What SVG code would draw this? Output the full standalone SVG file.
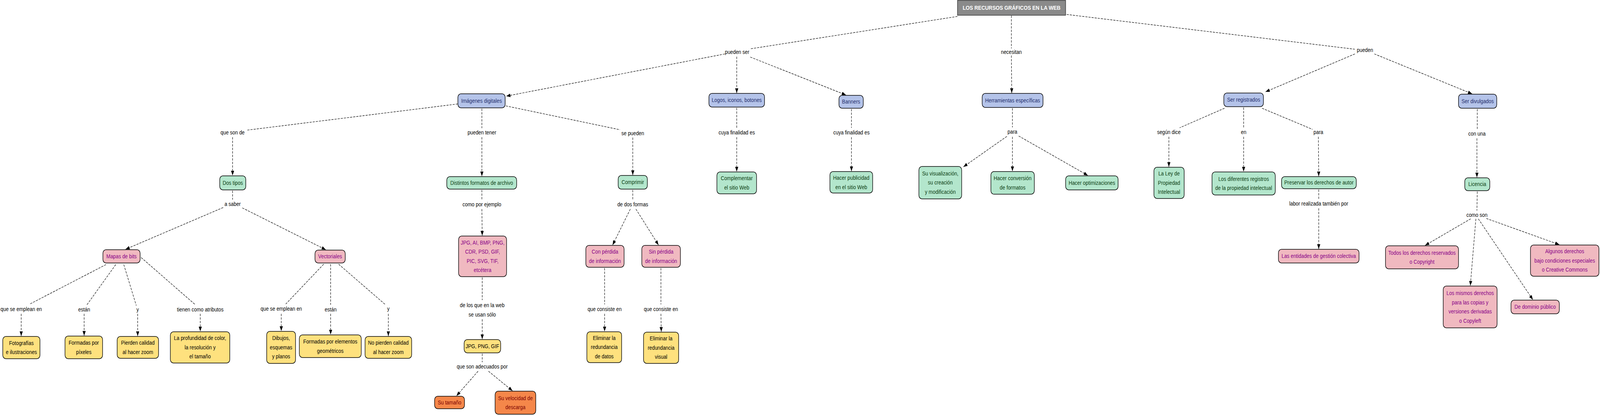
<svg xmlns="http://www.w3.org/2000/svg" width="4602" height="1062" viewBox="0 0 4602 1062" preserveAspectRatio="none" style="width:100vw;height:100vh;display:block">
<style>
text{font-family:"Liberation Sans",Arial,sans-serif;font-size:14px;text-anchor:middle}
.lbl{fill:#000}
.nd rect{stroke:#000;stroke-width:1.5}
.blue rect{fill:#b4c3e9}.blue text{fill:#1f2d6b}
.green rect{fill:#b3e6cc}.green text{fill:#0b3d12}
.pink rect{fill:#f0b9c0}.pink text{fill:#880088}
.yel rect{fill:#fee17e}.yel text{fill:#000}
.org rect{fill:#f5874a}.org text{fill:#7a0000}
#conn line{stroke:#000;stroke-width:1.2;stroke-dasharray:6 3;fill:none}
#conn line.a{marker-end:url(#arr)}
</style>
<defs>
<marker id="arr" viewBox="0 0 12 9" refX="12" refY="4.5" markerWidth="12" markerHeight="9" markerUnits="userSpaceOnUse" orient="auto"><path d="M0,0 L12,4.5 L0,9 z" fill="#000"/></marker>
</defs>
<rect width="4602" height="1062" fill="#fff"/>
<g id="conn">
<line x1="2754" y1="42" x2="2158" y2="125"/>
<line x1="2909" y1="40" x2="2909" y2="124"/>
<line x1="3068" y1="37" x2="3897" y2="126"/>
<line class="a" x1="2085" y1="138" x2="1456" y2="246"/>
<line class="a" x1="2119" y1="145" x2="2119" y2="238"/>
<line class="a" x1="2158" y1="146" x2="2433" y2="243"/>
<line class="a" x1="2909" y1="142" x2="2910" y2="238"/>
<line class="a" x1="3897" y1="138" x2="3640" y2="235"/>
<line class="a" x1="3953" y1="138" x2="4234" y2="240"/>
<line x1="1317" y1="266" x2="711" y2="333"/>
<line x1="1386" y1="278" x2="1386" y2="328"/>
<line x1="1455" y1="271" x2="1783" y2="332"/>
<line class="a" x1="669" y1="351" x2="669" y2="449"/>
<line class="a" x1="1386" y1="351" x2="1386" y2="451"/>
<line class="a" x1="1820" y1="352" x2="1820" y2="448"/>
<line x1="2119" y1="276" x2="2119" y2="328"/>
<line class="a" x1="2119" y1="351" x2="2119" y2="439"/>
<line x1="2449" y1="279" x2="2449" y2="327"/>
<line class="a" x1="2449" y1="351" x2="2449" y2="438"/>
<line x1="2912" y1="277" x2="2912" y2="326"/>
<line class="a" x1="2896" y1="349" x2="2771" y2="427"/>
<line class="a" x1="2912" y1="350" x2="2912" y2="438"/>
<line class="a" x1="2930" y1="348" x2="3129" y2="449"/>
<line x1="3522" y1="277" x2="3393" y2="327"/>
<line x1="3577" y1="275" x2="3577" y2="327"/>
<line x1="3630" y1="277" x2="3775" y2="331"/>
<line class="a" x1="3362" y1="350" x2="3362" y2="427"/>
<line class="a" x1="3577" y1="350" x2="3577" y2="439"/>
<line class="a" x1="3792" y1="350" x2="3793" y2="451"/>
<line x1="3793" y1="485" x2="3793" y2="510"/>
<line class="a" x1="3793" y1="533" x2="3793" y2="637"/>
<line x1="4249" y1="279" x2="4249" y2="331"/>
<line class="a" x1="4248" y1="354" x2="4248" y2="454"/>
<line x1="4249" y1="490" x2="4248" y2="539"/>
<line class="a" x1="4230" y1="560" x2="4099" y2="628"/>
<line class="a" x1="4245" y1="560" x2="4229" y2="731"/>
<line class="a" x1="4252" y1="560" x2="4409" y2="767"/>
<line class="a" x1="4275" y1="559" x2="4485" y2="626"/>
<line x1="669" y1="488" x2="669" y2="511"/>
<line class="a" x1="642" y1="531" x2="361" y2="638"/>
<line class="a" x1="697" y1="532" x2="937" y2="639"/>
<line x1="305" y1="677" x2="86" y2="778"/>
<line x1="333" y1="677" x2="250" y2="780"/>
<line x1="356" y1="677" x2="392" y2="782"/>
<line x1="406" y1="659" x2="562" y2="780"/>
<line class="a" x1="61" y1="803" x2="61" y2="860"/>
<line class="a" x1="242" y1="803" x2="242" y2="859"/>
<line class="a" x1="396" y1="803" x2="396" y2="860"/>
<line class="a" x1="576" y1="803" x2="576" y2="848"/>
<line x1="931" y1="676" x2="822" y2="778"/>
<line x1="951" y1="676" x2="951" y2="780"/>
<line x1="974" y1="676" x2="1109" y2="780"/>
<line class="a" x1="809" y1="803" x2="809" y2="847"/>
<line class="a" x1="951" y1="803" x2="951" y2="856"/>
<line class="a" x1="1117" y1="803" x2="1117" y2="860"/>
<line x1="1386" y1="486" x2="1386" y2="512"/>
<line class="a" x1="1386" y1="535" x2="1387" y2="603"/>
<line x1="1387" y1="710" x2="1387" y2="768"/>
<line class="a" x1="1387" y1="817" x2="1387" y2="868"/>
<line x1="1387" y1="905" x2="1387" y2="927"/>
<line class="a" x1="1375" y1="950" x2="1313" y2="1013"/>
<line class="a" x1="1405" y1="950" x2="1474" y2="1000"/>
<line x1="1820" y1="486" x2="1820" y2="512"/>
<line class="a" x1="1813" y1="535" x2="1762" y2="627"/>
<line class="a" x1="1829" y1="535" x2="1894" y2="627"/>
<line x1="1739" y1="686" x2="1739" y2="779"/>
<line class="a" x1="1739" y1="803" x2="1739" y2="848"/>
<line x1="1901" y1="686" x2="1901" y2="779"/>
<line class="a" x1="1901" y1="803" x2="1902" y2="849"/>
</g>
<g id="labels" class="lbl">
<text x="2120" y="138">pueden ser</text>
<text x="2909" y="138">necesitan</text>
<text x="3926" y="133">pueden</text>
<text x="669" y="344">que son de</text>
<text x="1386" y="344">pueden tener</text>
<text x="1820" y="346">se pueden</text>
<text x="2119" y="344">cuya finalidad es</text>
<text x="2449" y="344">cuya finalidad es</text>
<text x="2912" y="342">para</text>
<text x="3362" y="343">según dice</text>
<text x="3577" y="343">en</text>
<text x="3792" y="343">para</text>
<text x="4248" y="347">con una</text>
<text x="669" y="527">a saber</text>
<text x="1386" y="528">como por ejemplo</text>
<text x="1820" y="528">de dos formas</text>
<text x="3793" y="526">labor realizada también por</text>
<text x="4248" y="555">como son</text>
<text x="61" y="796">que se emplean en</text>
<text x="242" y="797">están</text>
<text x="396" y="797">y</text>
<text x="576" y="797">tienen como atributos</text>
<text x="809" y="795">que se emplean en</text>
<text x="951" y="797">están</text>
<text x="1117" y="795">y</text>
<text x="1387"><tspan x="1387" y="786">de los que en la web</tspan><tspan x="1387" y="810">se usan sólo</tspan></text>
<text x="1739" y="796">que consiste en</text>
<text x="1901" y="796">que consiste en</text>
<text x="1387" y="943">que son adecuados por</text>
</g>
<g id="n-title"><rect x="2754" y="1" width="311" height="38" fill="#8a8a8a" stroke="#333" stroke-width="1.5"/><text x="2909.5" y="25" style="fill:#fff;font-weight:bold;font-size:14.5px">LOS RECURSOS GRÁFICOS EN LA WEB</text></g>
<g id="n-imagenes" class="nd blue"><rect x="1317" y="240" width="136" height="36" rx="9"/><text x="1385" y="263">Imágenes digitales</text></g>
<g id="n-logos" class="nd blue"><rect x="2039" y="239" width="160" height="35" rx="9"/><text x="2119" y="261.5">Logos, iconos, botones</text></g>
<g id="n-banners" class="nd blue"><rect x="2413" y="244" width="70" height="33" rx="9"/><text x="2448" y="265.5">Banners</text></g>
<g id="n-herramientas" class="nd blue"><rect x="2825" y="239" width="175" height="36" rx="9"/><text x="2912.5" y="262">Herramientas específicas</text></g>
<g id="n-registrados" class="nd blue"><rect x="3520" y="238" width="114" height="35" rx="9"/><text x="3577" y="260.5">Ser registrados</text></g>
<g id="n-divulgados" class="nd blue"><rect x="4195" y="241" width="110" height="36" rx="9"/><text x="4250" y="264">Ser divulgados</text></g>
<g id="n-dostipos" class="nd green"><rect x="632" y="450" width="75" height="36" rx="9"/><text x="669.5" y="473">Dos tipos</text></g>
<g id="n-distintos" class="nd green"><rect x="1285" y="452" width="201" height="32" rx="9"/><text x="1385.5" y="473">Distintos formatos de archivo</text></g>
<g id="n-comprimir" class="nd green"><rect x="1778" y="449" width="84" height="35" rx="9"/><text x="1820" y="471.5">Comprimir</text></g>
<g id="n-complementar" class="nd green"><rect x="2062" y="440" width="114" height="56" rx="9"/><text><tspan x="2119" y="461">Complementar</tspan><tspan x="2119" y="485">el sitio Web</tspan></text></g>
<g id="n-publicidad" class="nd green"><rect x="2387" y="439" width="123" height="55" rx="9"/><text><tspan x="2448.5" y="460">Hacer publicidad</tspan><tspan x="2448.5" y="484">en el sitio Web</tspan></text></g>
<g id="n-visualizacion" class="nd green"><rect x="2643" y="426" width="123" height="83" rx="9"/><text><tspan x="2704.5" y="449">Su visualización,</tspan><tspan x="2704.5" y="472.5">su creación</tspan><tspan x="2704.5" y="496">y modificación</tspan></text></g>
<g id="n-conversion" class="nd green"><rect x="2850" y="439" width="125" height="58" rx="9"/><text><tspan x="2912.5" y="461">Hacer conversión</tspan><tspan x="2912.5" y="485">de formatos</tspan></text></g>
<g id="n-optimizaciones" class="nd green"><rect x="3065" y="450" width="151" height="36" rx="9"/><text x="3140.5" y="473">Hacer optimizaciones</text></g>
<g id="n-ley" class="nd green"><rect x="3319" y="428" width="87" height="80" rx="9"/><text><tspan x="3362.5" y="449.5">La Ley de</tspan><tspan x="3362.5" y="473">Propiedad</tspan><tspan x="3362.5" y="496.5">Intelectual</tspan></text></g>
<g id="n-registros" class="nd green"><rect x="3486" y="440" width="182" height="59" rx="9"/><text><tspan x="3577" y="463">Los diferentes registros</tspan><tspan x="3577" y="486.5">de la propiedad intelectual</tspan></text></g>
<g id="n-preservar" class="nd green"><rect x="3686" y="452" width="215" height="31" rx="9"/><text x="3793.5" y="472.5">Preservar los derechos de autor</text></g>
<g id="n-licencia" class="nd green"><rect x="4213" y="455" width="72" height="33" rx="9"/><text x="4249" y="476.5">Licencia</text></g>
<g id="n-mapas" class="nd pink"><rect x="296" y="639" width="107" height="34" rx="9"/><text x="349.5" y="661">Mapas de bits</text></g>
<g id="n-vectoriales" class="nd pink"><rect x="906" y="640" width="87" height="33" rx="9"/><text x="949.5" y="661.5">Vectoriales</text></g>
<g id="n-formatos" class="nd pink"><rect x="1319" y="604" width="138" height="104" rx="9"/><text><tspan x="1388" y="626">JPG, AI, BMP, PNG,</tspan><tspan x="1388" y="649.5">CDR, PSD, GIF,</tspan><tspan x="1388" y="673">PIC, SVG, TIF,</tspan><tspan x="1388" y="696.5">etcétera</tspan></text></g>
<g id="n-conperdida" class="nd pink"><rect x="1685" y="628" width="110" height="56" rx="9"/><text><tspan x="1740" y="649.5">Con pérdida</tspan><tspan x="1740" y="673">de información</tspan></text></g>
<g id="n-sinperdida" class="nd pink"><rect x="1846" y="628" width="111" height="56" rx="9"/><text><tspan x="1901.5" y="649.5">Sin pérdida</tspan><tspan x="1901.5" y="673">de información</tspan></text></g>
<g id="n-entidades" class="nd pink"><rect x="3677" y="638" width="232" height="35" rx="9"/><text x="3793" y="660.5">Las entidades de gestión colectiva</text></g>
<g id="n-copyright" class="nd pink"><rect x="3985" y="629" width="210" height="59" rx="9"/><text><tspan x="4090" y="652">Todos los derechos reservados</tspan><tspan x="4090" y="675.5">o Copyright</tspan></text></g>
<g id="n-creative" class="nd pink"><rect x="4402" y="627" width="197" height="80" rx="9"/><text><tspan x="4500.5" y="648.5">Algunos derechos</tspan><tspan x="4500.5" y="672">bajo condiciones especiales</tspan><tspan x="4500.5" y="695.5">o Creative Commons</tspan></text></g>
<g id="n-copyleft" class="nd pink"><rect x="4151" y="732" width="155" height="107" rx="9"/><text><tspan x="4228.5" y="755.5">Los mismos derechos</tspan><tspan x="4228.5" y="779">para las copias y</tspan><tspan x="4228.5" y="802.5">versiones derivadas</tspan><tspan x="4228.5" y="826">o Copyleft</tspan></text></g>
<g id="n-dominio" class="nd pink"><rect x="4346" y="768" width="139" height="35" rx="9"/><text x="4415.5" y="790.5">De dominio público</text></g>
<g id="n-fotografias" class="nd yel"><rect x="8" y="861" width="107" height="57" rx="9"/><text><tspan x="61.5" y="883">Fotografías</tspan><tspan x="61.5" y="906.5">e ilustraciones</tspan></text></g>
<g id="n-pixeles" class="nd yel"><rect x="187" y="860" width="108" height="58" rx="9"/><text><tspan x="241" y="882.5">Formadas por</tspan><tspan x="241" y="906">píxeles</tspan></text></g>
<g id="n-pierden" class="nd yel"><rect x="337" y="861" width="119" height="56" rx="9"/><text><tspan x="396.5" y="882.5">Pierden calidad</tspan><tspan x="396.5" y="906">al hacer zoom</tspan></text></g>
<g id="n-profundidad" class="nd yel"><rect x="490" y="849" width="171" height="80" rx="9"/><text><tspan x="575.5" y="870.5">La profundidad de color,</tspan><tspan x="575.5" y="894">la resolución y</tspan><tspan x="575.5" y="917.5">el tamaño</tspan></text></g>
<g id="n-dibujos" class="nd yel"><rect x="767" y="848" width="83" height="82" rx="9"/><text><tspan x="808.5" y="870.5">Dibujos,</tspan><tspan x="808.5" y="894">esquemas</tspan><tspan x="808.5" y="917.5">y planos</tspan></text></g>
<g id="n-geometricos" class="nd yel"><rect x="861" y="857" width="178" height="58" rx="9"/><text><tspan x="950" y="879.5">Formadas por elementos</tspan><tspan x="950" y="903">geométricos</tspan></text></g>
<g id="n-nopierden" class="nd yel"><rect x="1050" y="861" width="134" height="56" rx="9"/><text><tspan x="1117" y="882.5">No pierden calidad</tspan><tspan x="1117" y="906">al hacer zoom</tspan></text></g>
<g id="n-jpgpnggif" class="nd yel"><rect x="1335" y="869" width="105" height="34" rx="9"/><text x="1387.5" y="891">JPG, PNG, GIF</text></g>
<g id="n-datos" class="nd yel"><rect x="1688" y="849" width="100" height="79" rx="9"/><text><tspan x="1738" y="870">Eliminar la</tspan><tspan x="1738" y="893.5">redundancia</tspan><tspan x="1738" y="917">de datos</tspan></text></g>
<g id="n-visual" class="nd yel"><rect x="1851" y="850" width="101" height="80" rx="9"/><text><tspan x="1901.5" y="871.5">Eliminar la</tspan><tspan x="1901.5" y="895">redundancia</tspan><tspan x="1901.5" y="918.5">visual</tspan></text></g>
<g id="n-tamano" class="nd org"><rect x="1250" y="1014" width="86" height="32" rx="9"/><text x="1293" y="1035">Su tamaño</text></g>
<g id="n-velocidad" class="nd org"><rect x="1424" y="1001" width="117" height="59" rx="9"/><text><tspan x="1482.5" y="1024">Su velocidad de</tspan><tspan x="1482.5" y="1047.5">descarga</tspan></text></g>
</svg>
